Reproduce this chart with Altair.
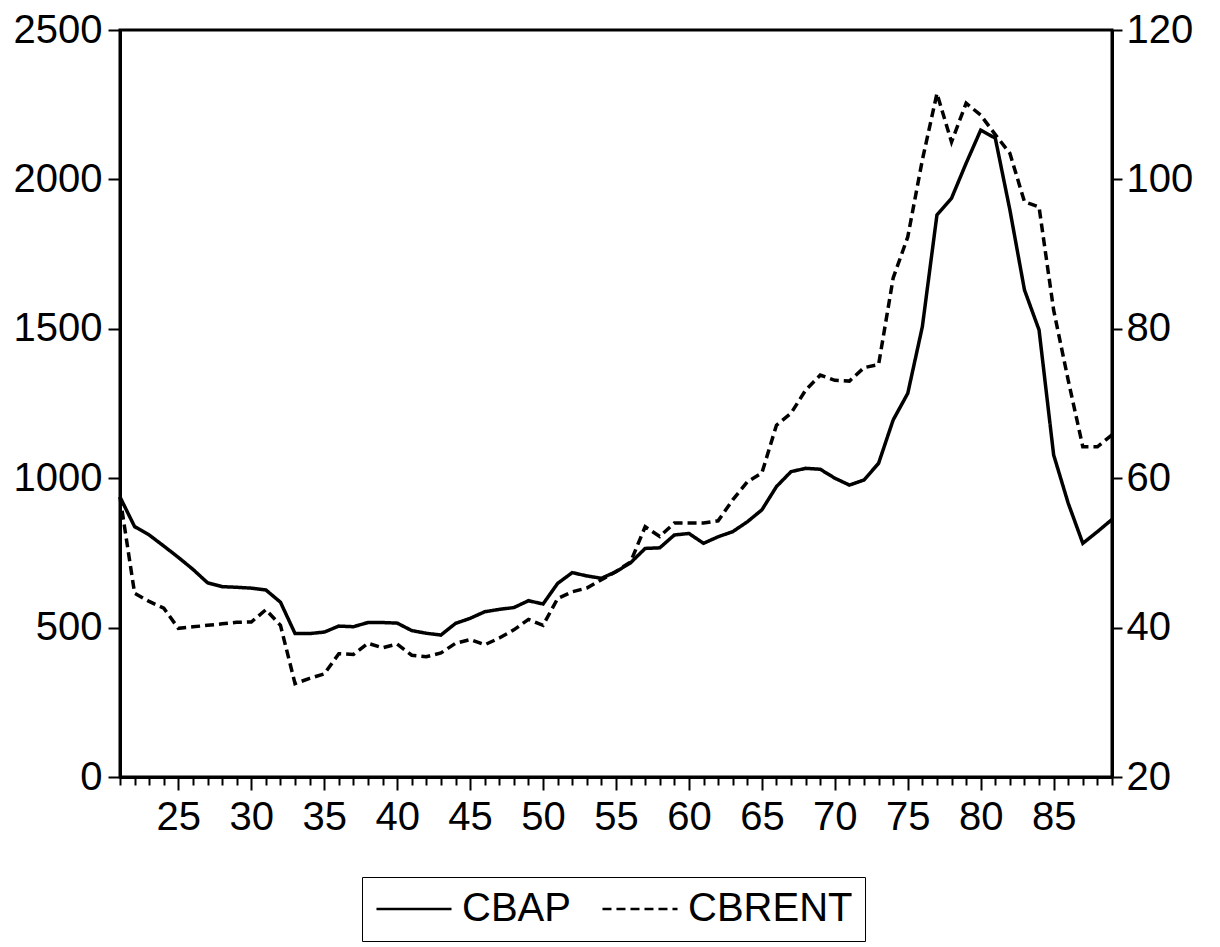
import altair as alt
import pandas as pd

years = list(range(21, 90))

cbap = [937, 838, 810, 773, 735, 695, 650, 637, 635, 632,
        626, 585, 480, 480, 485, 505, 503, 517, 517, 515,
        490, 481, 475, 514, 531, 553, 561, 567, 590, 579,
        648, 684, 673, 665, 687, 717, 765, 767, 810, 815,
        782, 804, 821, 854, 894, 972, 1022, 1033, 1030, 1000,
        977, 994, 1050, 1195, 1284, 1507, 1881, 1937, 2054, 2165,
        2138, 1898, 1630, 1496, 1078, 916, 782, 821, 862]

cbrent = [57.5, 44.6, 43.5, 42.6, 39.9, 40.1, 40.3, 40.5, 40.7, 40.75,
          42.4, 40.3, 32.5, 33.2, 33.8, 36.5, 36.4, 37.9, 37.3, 37.8,
          36.3, 36.1, 36.6, 37.9, 38.4, 37.7, 38.6, 39.7, 41.1, 40.3,
          43.9, 44.8, 45.3, 46.4, 47.5, 48.8, 53.5, 52.2, 54.0, 54.0,
          54.0, 54.3, 57.1, 59.5, 60.7, 67.1, 68.7, 71.8, 73.8, 73.1,
          73.0, 74.8, 75.2, 86.8, 92.3, 102.6, 111.5, 105.0, 110.2, 108.6,
          106.0, 103.5, 97.0, 96.3, 82.5, 73.1, 64.2, 64.2, 65.8]

series_names = ["CBAP", "CBRENT"]
left_ticks = [0, 500, 1000, 1500, 2000, 2500]
right_ticks = [20, 40, 60, 80, 100, 120]

df = pd.DataFrame({"year": years, "CBAP": cbap, "CBRENT": cbrent})
long = df.melt("year", var_name="series", value_name="value")

FONT = "Liberation Sans"

x_enc = alt.X(
    "year:Q",
    scale=alt.Scale(domain=[21, 89], nice=False, zero=False),
    axis=alt.Axis(
        values=years,
        labelExpr="datum.value % 5 === 0 ? datum.value : ''",
        labelOverlap=False,
        labelFlush=False,
        title=None,
        tickSize={"condition": {"test": "datum.value % 5 === 0", "value": 13}, "value": 8},
        labelPadding=7,
    ),
)

dash = alt.StrokeDash(
    "series:N",
    scale=alt.Scale(domain=series_names, range=[[1, 0], [9, 5]]),
    legend=alt.Legend(
        title=None,
        orient="none",
        legendX=242,
        legendY=847,
        direction="horizontal",
        symbolType="M-4,0H4",
        symbolSize=352,
        symbolStrokeWidth=2.4,
        symbolStrokeColor="black",
        symbolOffset=20,
        labelFont=FONT,
        labelFontSize=40,
        labelColor="black",
        labelLimit=0,
        labelOffset=28,
        columnPadding=26,
        strokeColor="black",
        padding=12,
    ),
)

base = alt.Chart(long)

left = base.transform_filter(alt.datum.series == "CBAP").mark_line(
    color="black", strokeWidth=3.5
).encode(
    x=x_enc,
    y=alt.Y(
        "value:Q",
        scale=alt.Scale(domain=[0, 2500], nice=False),
        axis=alt.Axis(values=left_ticks, orient="left", title=None, tickSize=12,
                      labelPadding=6, format="d"),
    ),
    strokeDash=dash,
)

right = base.transform_filter(alt.datum.series == "CBRENT").mark_line(
    color="black", strokeWidth=3.5
).encode(
    x=x_enc,
    y=alt.Y(
        "value:Q",
        scale=alt.Scale(domain=[20, 120], nice=False, zero=False),
        axis=alt.Axis(values=right_ticks, orient="right", title=None, tickSize=10,
                      labelPadding=4, format="d"),
    ),
    strokeDash=dash,
)

chart = (
    alt.layer(left, right)
    .resolve_scale(y="independent")
    .properties(width=992, height=747, padding={"left": 5, "top": 2, "right": 5, "bottom": 2})
    .configure_view(stroke="black", strokeWidth=3)
    .configure_axis(
        domainColor="black",
        domainWidth=3,
        tickColor="black",
        tickWidth=2,
        labelFont=FONT,
        labelFontSize=40,
        labelColor="black",
        grid=False,
    )
)

chart.save("out.html", embed_options={"renderer": "svg", "actions": False})
